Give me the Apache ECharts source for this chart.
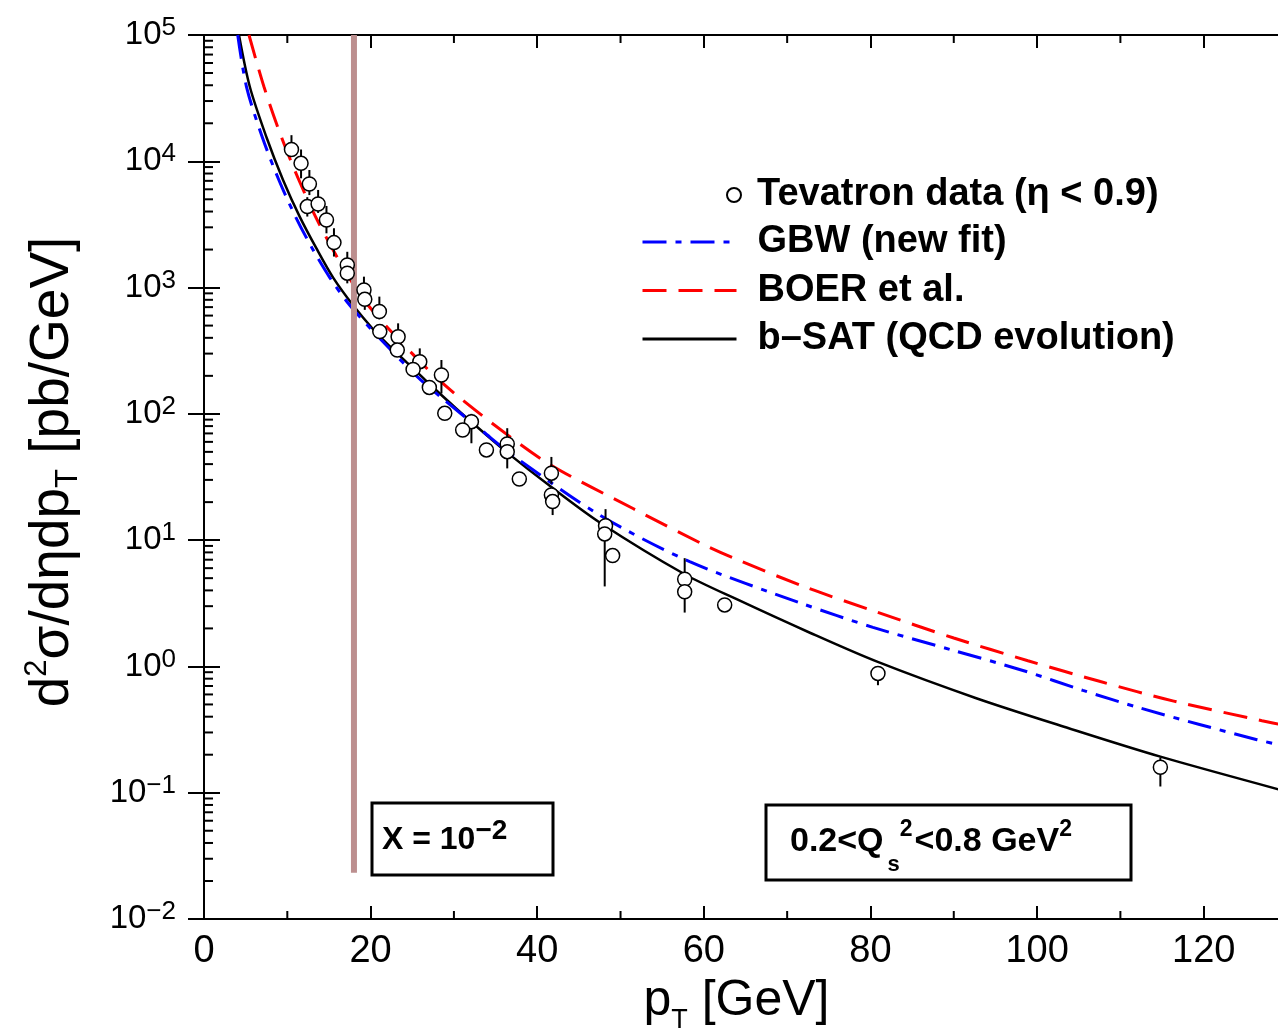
<!DOCTYPE html>
<html>
<head>
<meta charset="utf-8">
<script src="https://cdn.jsdelivr.net/npm/echarts@6/dist/echarts.min.js"></script>
<style>
  html, body { margin: 0; padding: 0; background: #fff; }
  #chart { width: 1278px; height: 1029px; }
</style>
</head>
<body>
<div id="chart"></div>
<script>
// Tevatron points: pT, value, error bar low / high
const tevPt  = [10.5, 11.65, 12.65, 12.4, 13.7, 14.7, 15.6, 17.2, 17.2, 19.2, 19.3, 21.05, 21.1, 23.3, 23.2, 25.9, 25.1, 28.5, 27.05, 28.9, 32.1, 31.05, 33.9, 36.4, 36.4, 37.85, 41.7, 41.7, 41.85, 48.2, 48.1, 49.05, 57.7, 57.7, 62.5, 80.9, 114.8]
const tevVal = [12400, 9640, 6610, 4380, 4590, 3430, 2270, 1510, 1300, 957, 807, 646, 448, 408, 320, 259, 225, 203, 162, 101, 86.7, 74.5, 51.8, 57.8, 50.2, 30.5, 33.9, 22.8, 20.2, 13.0, 11.2, 7.55, 4.9, 3.9, 3.07, 0.88, 0.159]
const tevLo  = [11000, 7330, 5400, 3650, 3900, 2690, 1760, 1300, 1080, 850, 666, 560, 400, 360, 290, 230, 200, 145, 145, 92, 58.5, 67, 47, 50, 37, 28, 28, 20, 15.8, 11.5, 4.3, 6.9, 4.3, 2.67, 2.75, 0.71, 0.112]
const tevHi  = [16100, 12400, 8530, 5200, 5930, 4430, 2950, 1920, 1500, 1220, 900, 848, 500, 521, 360, 330, 250, 267, 180, 112, 100, 83, 57, 77, 55, 33, 45.6, 26, 22, 17.6, 12.5, 8.2, 7.2, 4.4, 3.4, 0.97, 0.19]

// GBW (new fit)
const gbwPt  = [4.05, 5.1, 7.0, 9.0, 11.0, 13.0, 15.1, 17.5, 20.7, 25.5, 28.3, 33.5, 37.1, 47.5, 58.3, 71.7, 80.3, 89.6, 98.4, 105.5, 112.4, 119.5, 126.4, 130]
const gbwVal = [100000, 38900, 15500, 7080, 3630, 2040, 1200, 724, 422, 200, 138, 72.4, 46.8, 15.8, 6.76, 3.16, 2.04, 1.36, 0.925, 0.646, 0.468, 0.347, 0.263, 0.232]

// BOER et al.
const boerPt  = [5.4, 7.2, 9.3, 11.4, 13.4, 15.4, 17.4, 19.7, 23.5, 28.5, 34.7, 41.5, 51.5, 60, 63.5, 72.1, 80.8, 90, 98.9, 107.6, 116.4, 127, 130]
const boerVal = [100000, 38900, 15500, 7080, 3630, 2040, 1200, 724, 380, 178, 83.2, 39.8, 17.8, 9.2, 7.24, 4.27, 2.69, 1.68, 1.11, 0.759, 0.531, 0.372, 0.339]

// b-SAT (QCD evolution)
const bsatPt  = [4.2, 5.5, 7.5, 9.5, 11.5, 13.5, 15.5, 17.9, 20.3, 22.3, 24.3, 26.3, 28.3, 30.3, 32.3, 36.3, 41.5, 47.5, 57.7, 64, 72.8, 80.8, 92.7, 103.8, 114.8, 130]
const bsatVal = [100000, 38900, 15500, 7080, 3630, 2040, 1200, 724, 468, 343, 257, 193, 145, 110, 84, 50, 26.9, 13.8, 5.37, 3.39, 1.84, 1.09, 0.56, 0.324, 0.193, 0.102]

// x = 10^-2 marker line
const xMarkPt  = [18, 18]
const xMarkVal = [100000, 0.0232]

// axis ticks
const xMin = 0, xMax = 130, xStep = 20
const xMinorTicks = [10, 30, 50, 70, 90, 110, 130]
const yDecades = [-2, -1, 0, 1, 2, 3, 4, 5]

const FONT = '"Liberation Sans", Arial, Helvetica, sans-serif'
const zip = (a, b) => a.map((v, i) => [v, b[i]])

// log minor ticks 2..9 in every decade
const yMinorTicks = []
yDecades.slice(0, -1).forEach(d => {
  for (let k = 2; k <= 9; k++) yMinorTicks.push(k * Math.pow(10, d))
})

const supText = e => (e < 0 ? '\u2212' + (-e) : String(e))

const chart = echarts.init(document.getElementById('chart'))

const axisLineStyle = { color: '#000', width: 2 }
const legendText = { fontFamily: FONT, fontSize: 38, fontWeight: 'bold', color: '#000', lineHeight: 36 }

const option = {
  animation: false,
  backgroundColor: '#fff',
  grid: { left: 204, top: 35, width: 1083, height: 884, containLabel: false, outerBoundsMode: 'none' },
  legend: [
    {
      data: ['Tevatron data (\u03b7 < 0.9)'],
      orient: 'vertical',
      left: 726,
      top: 176,
      padding: 0,
      itemWidth: 14,
      itemHeight: 14,
      textStyle: Object.assign({ padding: [0, 0, 0, 11] }, legendText)
    },
    {
      data: ['GBW (new fit)', 'BOER et al.', 'b\u2013SAT (QCD evolution)'],
      orient: 'vertical',
      left: 641,
      top: 223,
      padding: 0,
      itemWidth: 94,
      itemHeight: 14,
      itemGap: 10.5,
      itemStyle: { opacity: 0 },
      lineStyle: { width: 3 },
      textStyle: Object.assign({ padding: [0, 0, 0, 16] }, legendText)
    }
  ],
  xAxis: [
    {
      type: 'value', position: 'bottom', min: xMin, max: xMax, interval: xStep,
      axisLine: { lineStyle: axisLineStyle },
      axisTick: { inside: true, length: 13, lineStyle: axisLineStyle },
      axisLabel: { fontFamily: FONT, fontSize: 38, color: '#000', margin: 14, showMaxLabel: false },
      splitLine: { show: false },
      name: '{m|p}{s|T}{m| [GeV]}',
      nameLocation: 'middle',
      nameGap: 55,
      nameTextStyle: {
        padding: [0, 18, 0, 0],
        rich: {
          m: { fontFamily: FONT, fontSize: 50, color: '#000', lineHeight: 58, verticalAlign: 'top' },
          s: { fontFamily: FONT, fontSize: 27, color: '#000', lineHeight: 27, verticalAlign: 'bottom' }
        }
      }
    },
    {
      type: 'value', position: 'top', min: xMin, max: xMax, interval: xStep,
      axisLine: { lineStyle: axisLineStyle },
      axisTick: { inside: true, length: 13, lineStyle: axisLineStyle },
      axisLabel: { show: false },
      splitLine: { show: false }
    }
  ],
  yAxis: [
    {
      type: 'log', logBase: 10, position: 'left', min: 0.01, max: 100000,
      axisLine: { lineStyle: axisLineStyle },
      axisTick: { inside: true, length: 16, lineStyle: axisLineStyle },
      axisLabel: {
        margin: 28,
        formatter: v => '{b|10}{e|' + supText(Math.round(Math.log10(v))) + '}',
        rich: {
          b: { fontFamily: FONT, fontSize: 33, color: '#000', lineHeight: 40 },
          e: { fontFamily: FONT, fontSize: 26, color: '#000', lineHeight: 24, verticalAlign: 'top' }
        }
      },
      splitLine: { show: false },
      name: '{m|d}{sup|2}{m|\u03c3/d\u03b7dp}{sub|T}{m| [pb/GeV]}',
      nameLocation: 'middle',
      nameRotate: 90,
      nameGap: 120,
      nameTextStyle: {
        padding: [0, 0, 0, 10],
        rich: {
          m: { fontFamily: FONT, fontSize: 55, color: '#000', lineHeight: 62 },
          sup: { fontFamily: FONT, fontSize: 31, color: '#000', lineHeight: 30, verticalAlign: 'top' },
          sub: { fontFamily: FONT, fontSize: 31, color: '#000', lineHeight: 30, verticalAlign: 'bottom' }
        }
      }
    },
    {
      type: 'log', logBase: 10, position: 'right', min: 0.01, max: 100000,
      axisLine: { lineStyle: axisLineStyle },
      axisTick: { inside: true, length: 16, lineStyle: axisLineStyle },
      axisLabel: { show: false },
      splitLine: { show: false }
    }
  ],
  graphic: [
    {
      type: 'rect', z: 100,
      shape: { x: 372, y: 803, width: 181, height: 72 },
      style: { fill: '#fff', stroke: '#000', lineWidth: 3 }
    },
    {
      type: 'text', z: 101, x: 382, y: 840,
      style: {
        text: '{a|X = 10}{b|\u22122}',
        verticalAlign: 'middle',
        rich: {
          a: { fontFamily: FONT, fontSize: 32, fontWeight: 'bold', fill: '#000', lineHeight: 46 },
          b: { fontFamily: FONT, fontSize: 28, fontWeight: 'bold', fill: '#000', lineHeight: 26, verticalAlign: 'top' }
        }
      }
    },
    {
      type: 'rect', z: 100,
      shape: { x: 766, y: 805, width: 365, height: 75 },
      style: { fill: '#fff', stroke: '#000', lineWidth: 3 }
    },
    {
      type: 'text', z: 101, x: 790, y: 842,
      style: {
        text: '{a|0.2<Q}{sub|s}{sup|2}{a|<0.8 GeV}{sup|2}',
        verticalAlign: 'middle',
        rich: {
          a: { fontFamily: FONT, fontSize: 34, fontWeight: 'bold', fill: '#000', lineHeight: 48 },
          sup: { fontFamily: FONT, fontSize: 23, fontWeight: 'bold', fill: '#000', lineHeight: 22, verticalAlign: 'top', padding: [0, 2, 0, 0] },
          sub: { fontFamily: FONT, fontSize: 22, fontWeight: 'bold', fill: '#000', lineHeight: 22, verticalAlign: 'bottom', padding: [0, 0, -10, 4] }
        }
      }
    }
  ],
  series: [
    {
      name: 'x-mark', type: 'line', z: 3, silent: true,
      data: zip(xMarkPt, xMarkVal),
      symbol: 'none',
      lineStyle: { color: '#bc8f8f', width: 6 }
    },
    {
      name: 'b\u2013SAT (QCD evolution)', type: 'line', z: 2,
      data: zip(bsatPt, bsatVal),
      symbol: 'none', smooth: 0.3,
      lineStyle: { color: '#000', width: 2.5 },
      itemStyle: { color: '#000' }
    },
    {
      name: 'GBW (new fit)', type: 'line', z: 2,
      data: zip(gbwPt, gbwVal),
      symbol: 'none', smooth: 0.3,
      lineStyle: { color: '#0000ff', width: 3, type: [24, 9, 6, 9] },
      itemStyle: { color: '#0000ff' }
    },
    {
      name: 'BOER et al.', type: 'line', z: 2,
      data: zip(boerPt, boerVal),
      symbol: 'none', smooth: 0.3,
      lineStyle: { color: '#ff0000', width: 3, type: [24, 12] },
      itemStyle: { color: '#ff0000' }
    },
    {
      name: 'errors', type: 'custom', z: 4, silent: true,
      data: tevPt.map((x, i) => [x, tevLo[i], tevHi[i]]),
      encode: { x: 0, y: [1, 2] },
      renderItem: (params, api) => {
        const a = api.coord([api.value(0), api.value(1)])
        const b = api.coord([api.value(0), api.value(2)])
        return { type: 'line', shape: { x1: a[0], y1: a[1], x2: b[0], y2: b[1] }, style: { stroke: '#000', lineWidth: 2 } }
      }
    },
    {
      name: 'Tevatron data (\u03b7 < 0.9)', type: 'scatter', z: 5,
      data: zip(tevPt, tevVal),
      symbol: 'circle', symbolSize: 14,
      itemStyle: { color: '#fff', borderColor: '#000', borderWidth: 1.5, opacity: 1 }
    },
    {
      name: 'x-minor', type: 'custom', z: 6, silent: true,
      data: xMinorTicks.map(v => [v, 0.01]),
      renderItem: (params, api) => {
        const b = api.coord([api.value(0), 0.01])
        const t = api.coord([api.value(0), 100000])
        return {
          type: 'group',
          children: [
            { type: 'line', shape: { x1: b[0], y1: b[1], x2: b[0], y2: b[1] - 8 }, style: { stroke: '#000', lineWidth: 2 } },
            { type: 'line', shape: { x1: t[0], y1: t[1], x2: t[0], y2: t[1] + 8 }, style: { stroke: '#000', lineWidth: 2 } }
          ]
        }
      }
    },
    {
      name: 'y-minor', type: 'custom', z: 6, silent: true,
      data: yMinorTicks.map(v => [0, v]),
      renderItem: (params, api) => {
        const l = api.coord([xMin, api.value(1)])
        const r = api.coord([xMax, api.value(1)])
        return {
          type: 'group',
          children: [
            { type: 'line', shape: { x1: l[0], y1: l[1], x2: l[0] + 9, y2: l[1] }, style: { stroke: '#000', lineWidth: 2 } },
            { type: 'line', shape: { x1: r[0] - 9, y1: r[1], x2: r[0], y2: r[1] }, style: { stroke: '#000', lineWidth: 2 } }
          ]
        }
      }
    }
  ]
}

chart.setOption(option)
</script>
</body>
</html>
